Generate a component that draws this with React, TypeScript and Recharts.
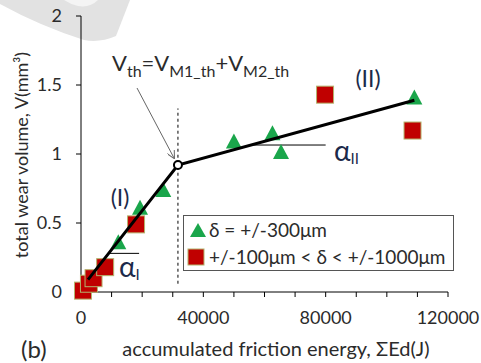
import React from 'react'
import {
  ComposedChart,
  Scatter,
  XAxis,
  YAxis,
  ReferenceLine,
  Legend,
} from 'recharts'

// δ = +/-300µm series (triangles)
const TRI_X = [12200, 19300, 26900, 50000, 62600, 65400, 109000]
const TRI_Y = [0.36, 0.61, 0.74, 1.09, 1.15, 1.015, 1.41]

// +/-100µm < δ < +/-1000µm series (squares)
const SQ_X = [650, 2600, 4100, 7900, 18000, 79800, 108400]
const SQ_Y = [0.01, 0.06, 0.1, 0.18, 0.49, 1.43, 1.17]

// bilinear fit and threshold point
const FIT_X = [2300, 31700, 109000]
const FIT_Y = [0.09, 0.92, 1.39]
const TH_X = 31700
const TH_Y = 0.92

const X_TICKS = [0, 10000, 20000, 30000, 40000, 50000, 60000, 70000, 80000, 90000, 100000, 110000, 120000]
const X_LABELED = [0, 40000, 80000, 120000]
const Y_TICKS = [0, 0.5, 1, 1.5, 2]

const FONT = 'Lato, "Open Sans", sans-serif'
const TEXT = '#2b2b2b'
const NAVY = '#1c2a4a'
const GREEN = '#1aa64b'
const RED = '#c00000'

const pts = (xs: number[], ys: number[]) => xs.map((x, i) => ({ x, y: ys[i] }))

const triData = pts(TRI_X, TRI_Y)
const sqData = pts(SQ_X, SQ_Y)
const fitData = pts(FIT_X, FIT_Y)

const Triangle = (p: any) => {
  const { cx, cy } = p
  return <polygon points={`${cx},${cy - 8} ${cx - 8},${cy + 7} ${cx + 8},${cy + 7}`} fill={GREEN} />
}

const Square = (p: any) => {
  const { cx, cy } = p
  return <rect x={cx - 8.5} y={cy - 8.5} width={17} height={17} fill={RED} stroke="#b3b46e" strokeWidth={1} />
}

const Hollow = (p: any) => <circle cx={p.cx} cy={p.cy} r={4} fill="#fff" stroke="#000" strokeWidth={2} />

const Nothing = () => <g />

const LegendBox = () => (
  <div
    style={{
      width: 269,
      height: 54,
      border: '1px solid #555',
      background: '#fff',
      fontFamily: FONT,
      fontSize: 19,
      color: TEXT,
      boxSizing: 'content-box',
      whiteSpace: 'nowrap',
    }}
  >
    <div style={{ display: 'flex', alignItems: 'center', height: 27 }}>
      <svg width={25} height={20}>
        <polygon points="14,3 6,17 22,17" fill={GREEN} />
      </svg>
      <span>δ = +/-300μm</span>
    </div>
    <div style={{ display: 'flex', alignItems: 'center', height: 27 }}>
      <svg width={25} height={20}>
        <rect x={4} y={2} width={16} height={16} fill={RED} stroke="#b3b46e" />
      </svg>
      <span>+/-100μm &lt; δ &lt; +/-1000μm</span>
    </div>
  </div>
)

export default function App() {
  return (
    <div style={{ position: 'absolute', left: 0, top: 0, width: 481, height: 363, background: '#fff', fontFamily: FONT }}>
      {/* faint watermark behind the plot */}
      <svg width={481} height={363} style={{ position: 'absolute', left: 0, top: 0 }}>
        <path d="M0,0 L130,0 L116,36 Q100,43 84,40 Q40,26 0,4 Z" fill="#e2e2e2" />
        <path d="M64,0 L98,0 Q90,8 78,6 Q70,4 64,0 Z" fill="#f4f4f4" />
      </svg>
      <div style={{ position: 'absolute', left: 0, top: 0 }}>
        <ComposedChart width={481} height={363} margin={{ top: 16, right: 33, bottom: 41, left: 36 }} style={{ fontFamily: FONT }}>
          <XAxis
            type="number"
            dataKey="x"
            domain={[0, 120000]}
            ticks={X_TICKS}
            interval={0}
            height={30}
            tickSize={5}
            tickMargin={14}
            axisLine={{ stroke: '#000' }}
            tickLine={{ stroke: '#000' }}
            tick={{ fontSize: 18, fill: TEXT }}
            tickFormatter={(v: number) => (X_LABELED.includes(v) ? String(v) : '')}
          />
          <YAxis
            type="number"
            dataKey="y"
            domain={[0, 2]}
            ticks={Y_TICKS}
            interval={0}
            width={45}
            tickSize={5}
            tickMargin={14}
            axisLine={{ stroke: '#000' }}
            tickLine={{ stroke: '#000' }}
            tick={{ fontSize: 18, fill: TEXT }}
          />
          <Legend
            layout="vertical"
            align="center"
            verticalAlign="middle"
            wrapperStyle={{ left: 183, top: 215, width: 271, height: 56 }}
            content={<LegendBox />}
          />
          <ReferenceLine
            segment={[{ x: TH_X, y: 0.06 }, { x: TH_X, y: 1.33 }]}
            stroke="#000"
            strokeWidth={1}
            strokeDasharray="3 3"
          />
          <ReferenceLine segment={[{ x: 9000, y: 0.28 }, { x: 19000, y: 0.28 }]} stroke="#000" strokeWidth={1} />
          <ReferenceLine segment={[{ x: 55000, y: 1.065 }, { x: 80000, y: 1.065 }]} stroke="#000" strokeWidth={1} />
          <Scatter data={triData} shape={Triangle} isAnimationActive={false} />
          <Scatter data={sqData} shape={Square} isAnimationActive={false} />
          <Scatter
            data={fitData}
            shape={Nothing}
            line={{ stroke: '#000', strokeWidth: 3 }}
            lineType="joint"
            isAnimationActive={false}
          />
          <Scatter data={[{ x: TH_X, y: TH_Y }]} shape={Hollow} isAnimationActive={false} />
        </ComposedChart>
      </div>
      {/* annotations */}
      <svg width={481} height={363} style={{ position: 'absolute', left: 0, top: 0, pointerEvents: 'none' }}>
        <defs>
          <marker id="arr" markerWidth={8} markerHeight={8} refX={7} refY={4} orient="auto" markerUnits="userSpaceOnUse">
            <path d="M0,0 L8,4 L0,8" fill="none" stroke="#666" strokeWidth={1} />
          </marker>
        </defs>
        <line x1={137} y1={88} x2={174} y2={158} stroke="#666" strokeWidth={1} markerEnd="url(#arr)" />
        <text x={112} y={71} fontSize={22} fill={TEXT} fontFamily={FONT}>
          V<tspan fontSize={16} dy={6}>th</tspan>
          <tspan dy={-6}>=V</tspan>
          <tspan fontSize={16} dy={6}>M1_th</tspan>
          <tspan dy={-6}>+V</tspan>
          <tspan fontSize={16} dy={6}>M2_th</tspan>
        </text>
        <text x={120} y={206} fontSize={23} fill={NAVY} textAnchor="middle" fontFamily={FONT}>(I)</text>
        <text x={368} y={87} fontSize={23} fill={NAVY} textAnchor="middle" fontFamily={FONT}>(II)</text>
        <text x={119} y={277} fontSize={28} fill={NAVY} fontFamily={FONT}>
          α<tspan fontSize={15} dy={3}>I</tspan>
        </text>
        <text x={334} y={161} fontSize={28} fill={NAVY} fontFamily={FONT}>
          α<tspan fontSize={15} dy={3}>II</tspan>
        </text>
        <text x={21} y={358} fontSize={24} fill={TEXT} fontFamily={FONT}>(b)</text>
        <text x={276} y={356} fontSize={20} fill={TEXT} textAnchor="middle" fontFamily={FONT}>
          accumulated friction energy, ΣEd(J)
        </text>
        <text
          x={0}
          y={0}
          fontSize={18}
          fill={TEXT}
          textAnchor="middle"
          fontFamily={FONT}
          transform="translate(28,155) rotate(-90)"
        >
          total wear volume, V(mm³)
        </text>
      </svg>
    </div>
  )
}
